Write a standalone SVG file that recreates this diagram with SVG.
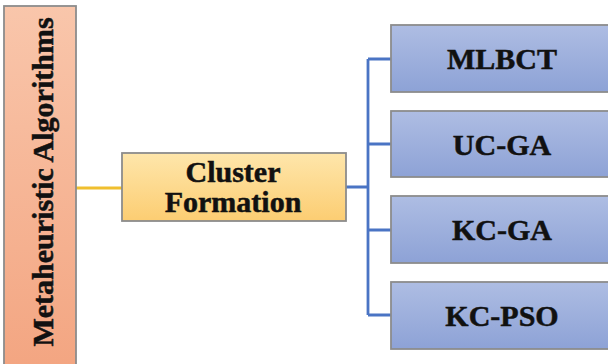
<svg xmlns="http://www.w3.org/2000/svg" width="608" height="364" viewBox="0 0 608 364">
  <style>
    .lbl { font-family: "Liberation Serif", "Times New Roman", serif; font-weight: bold; font-size: 30px; fill: #111; stroke: #111; stroke-width: 0.5; text-anchor: middle; }
    .box { stroke: #8c8c8c; stroke-width: 1.8; }
    .wire { fill: none; stroke-width: 2.8; }
  </style>
  <defs>
    <linearGradient id="gSalmon" x1="0" y1="0" x2="0" y2="1">
      <stop offset="0" stop-color="#f9c6ab"/>
      <stop offset="1" stop-color="#f3a581"/>
    </linearGradient>
    <linearGradient id="gGold" x1="0" y1="0" x2="0" y2="1">
      <stop offset="0" stop-color="#fee6ab"/>
      <stop offset="1" stop-color="#fccd72"/>
    </linearGradient>
    <linearGradient id="gBlue" x1="0" y1="0" x2="0" y2="1">
      <stop offset="0" stop-color="#aebde3"/>
      <stop offset="1" stop-color="#8da2d6"/>
    </linearGradient>
  </defs>

  <!-- connectors -->
  <g id="connectors">
    <path class="wire" stroke="#f0bf2e" stroke-width="2.2" d="M76 188 H122"/>
    <path class="wire" stroke="#4a74c4" d="M346 187 H368 M368 59 V315 M368 59 H391 M368 144 H391 M368 230 H391 M368 315 H391"/>
  </g>

  <g id="root">
    <rect class="box" x="4" y="6" width="72" height="364" fill="url(#gSalmon)"/>
    <text class="lbl" transform="translate(53 182) rotate(-90)">Metaheuristic Algorithms</text>
  </g>

  <g id="cluster">
    <rect class="box" x="122" y="153" width="224" height="68" fill="url(#gGold)"/>
    <text class="lbl" x="233" y="182">Cluster</text>
    <text class="lbl" x="233" y="212">Formation</text>
  </g>

  <g id="mlbct">
    <rect class="box" x="391" y="25" width="222" height="67" fill="url(#gBlue)"/>
    <text class="lbl" x="502" y="69">MLBCT</text>
  </g>
  <g id="ucga">
    <rect class="box" x="391" y="111" width="222" height="66" fill="url(#gBlue)"/>
    <text class="lbl" x="502" y="155">UC-GA</text>
  </g>
  <g id="kcga">
    <rect class="box" x="391" y="196" width="222" height="67" fill="url(#gBlue)"/>
    <text class="lbl" x="502" y="240">KC-GA</text>
  </g>
  <g id="kcpso">
    <rect class="box" x="391" y="282" width="222" height="67" fill="url(#gBlue)"/>
    <text class="lbl" x="502" y="326">KC-PSO</text>
  </g>
</svg>
